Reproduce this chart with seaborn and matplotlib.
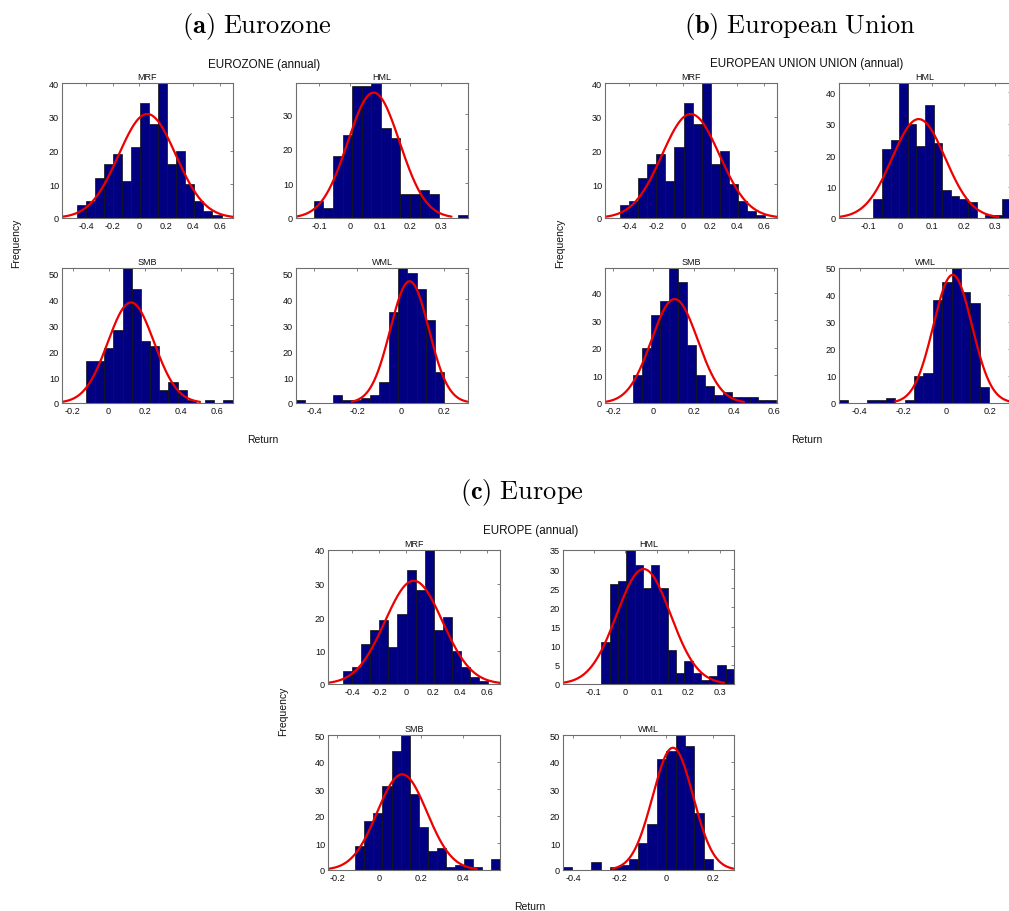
import numpy as np
import pandas as pd
import matplotlib
matplotlib.use("Agg")
import matplotlib.pyplot as plt
import seaborn as sns
from matplotlib.ticker import FuncFormatter, FixedLocator

# ---------------- data ----------------
FACTORS = ["MRF", "HML", "SMB", "WML"]

# bar counts (16 bins each)
EZ_MRF = [4, 5, 12, 16, 19, 11, 21, 34, 28, 40, 16, 20, 10, 5, 2, 1]
EZ_HML = [5, 3, 18, 24, 38, 38, 39, 26, 23, 7, 7, 8, 7, 0, 0, 1]
EZ_SMB = [16, 16, 21, 28, 52, 44, 24, 22, 5, 8, 5, 1, 0, 1, 0, 1]
EZ_WML = [1, 0, 0, 0, 3, 1, 1, 2, 3, 8, 35, 52, 50, 44, 32, 12]

EU_MRF = [4, 5, 12, 16, 19, 11, 21, 34, 28, 40, 16, 20, 10, 5, 2, 1]
EU_HML = [6, 22, 25, 43, 30, 23, 36, 24, 9, 7, 6, 5, 0, 1, 1, 6]
EU_SMB = [10, 20, 32, 37, 49, 44, 21, 10, 6, 3, 4, 2, 2, 2, 1, 1]
EU_WML = [1, 0, 0, 1, 1, 2, 0, 1, 10, 11, 38, 45, 50, 41, 37, 6]

EP_MRF = [4, 5, 12, 16, 19, 11, 21, 34, 28, 40, 16, 20, 10, 5, 2, 1]
EP_HML = [11, 26, 27, 35, 31, 25, 31, 25, 9, 3, 6, 3, 1, 2, 5, 4]
EP_SMB = [9, 18, 21, 31, 44, 50, 28, 16, 7, 8, 1, 2, 4, 1, 0, 4]
EP_WML = [1, 0, 0, 3, 0, 1, 2, 4, 10, 17, 41, 44, 50, 46, 21, 4]

# data range (first / last bin edge), order MRF, HML, SMB, WML
EZ_LO = [-0.470, -0.119, -0.126, -0.483]
EZ_HI = [0.614, 0.390, 0.689, 0.200]
EU_LO = [-0.470, -0.085, -0.101, -0.495]
EU_HI = [0.614, 0.350, 0.612, 0.197]
EP_LO = [-0.470, -0.076, -0.114, -0.443]
EP_HI = [0.614, 0.345, 0.579, 0.200]

# fitted normal (mean, std)
EZ_MU = [0.058, 0.079, 0.124, 0.040]
EZ_SD = [0.214, 0.0855, 0.128, 0.0886]
EU_MU = [0.058, 0.058, 0.106, 0.029]
EU_SD = [0.214, 0.084, 0.115, 0.0887]
EP_MU = [0.058, 0.058, 0.110, 0.028]
EP_SD = [0.214, 0.0853, 0.119, 0.0864]

# axis limits
EZ_XLIM = [(-0.58, 0.70), (-0.177, 0.390), (-0.259, 0.691), (-0.483, 0.309)]
EZ_YMAX = [40, 39, 52, 52]
EU_XLIM = [(-0.58, 0.70), (-0.194, 0.350), (-0.240, 0.615), (-0.495, 0.298)]
EU_YMAX = [40, 43, 49, 50]
EP_XLIM = [(-0.58, 0.70), (-0.198, 0.345), (-0.245, 0.579), (-0.443, 0.290)]
EP_YMAX = [40, 35, 50, 50]

# tick values
EZ_XTICKS = [[-0.4, -0.2, 0, 0.2, 0.4, 0.6], [-0.1, 0, 0.1, 0.2, 0.3],
             [-0.2, 0, 0.2, 0.4, 0.6], [-0.4, -0.2, 0, 0.2]]
EU_XTICKS = [[-0.4, -0.2, 0, 0.2, 0.4, 0.6], [-0.1, 0, 0.1, 0.2, 0.3],
             [-0.2, 0, 0.2, 0.4, 0.6], [-0.4, -0.2, 0, 0.2]]
EP_XTICKS = [[-0.4, -0.2, 0, 0.2, 0.4, 0.6], [-0.1, 0, 0.1, 0.2, 0.3],
             [-0.2, 0, 0.2, 0.4], [-0.4, -0.2, 0, 0.2]]
EZ_YSTEP = [10, 10, 10, 10]
EU_YSTEP = [10, 10, 10, 10]
EP_YSTEP = [10, 5, 10, 10]

PANEL_TITLES = [r"$\mathbf{(a)}\ \mathrm{Eurozone}$",
                r"$\mathbf{(b)}\ \mathrm{European\ Union}$",
                r"$\mathbf{(c)}\ \mathrm{Europe}$"]
SUPTITLES = ["EUROZONE (annual)", "EUROPEAN UNION UNION (annual)", "EUROPE (annual)"]

# ---------------- style ----------------
sns.set_theme(style="white")
plt.rcParams["font.family"] = ["Liberation Sans", "DejaVu Sans"]
plt.rcParams["axes.unicode_minus"] = False
plt.rcParams["mathtext.fontset"] = "cm"

W, H = 1009, 912
fig = plt.figure(figsize=(W / 100, H / 100), dpi=100)
fig.patch.set_facecolor("white")


def rect(x0, y0, x1, y1):
    return [x0 / W, 1 - y1 / H, (x1 - x0) / W, (y1 - y0) / H]


def fmt(v, _pos=None):
    if abs(v) < 1e-9:
        return "0"
    return f"{v:g}"


FRAME = "#6e6e6e"


def draw(ax, counts, lo, hi, mu, sd, xlim, ymax, xticks, ystep, title):
    counts = np.asarray(counts, dtype=float)
    nb = len(counts)
    edges = np.linspace(lo, hi, nb + 1)
    centers = (edges[:-1] + edges[1:]) / 2
    df = pd.DataFrame({"ret": centers, "freq": counts})
    sns.histplot(data=df, x="ret", weights="freq", bins=nb, binrange=(lo, hi), ax=ax,
                 color="#000080", edgecolor="#111111", linewidth=0.5,
                 alpha=1.0, stat="count")
    n = counts.sum()
    bw = (hi - lo) / nb
    xs = np.linspace(mu - 3 * sd, mu + 3 * sd, 300)
    ys = n * bw / (sd * np.sqrt(2 * np.pi)) * np.exp(-0.5 * ((xs - mu) / sd) ** 2)
    sns.lineplot(x=xs, y=ys, ax=ax, color="#ee0000", linewidth=1.6)
    ax.set_xlim(*xlim)
    ax.set_ylim(0, ymax)
    ax.xaxis.set_major_locator(FixedLocator(xticks))
    ax.yaxis.set_major_locator(FixedLocator(list(range(0, ymax + 1, ystep))))
    ax.xaxis.set_major_formatter(FuncFormatter(fmt))
    ax.yaxis.set_major_formatter(FuncFormatter(fmt))
    ax.set_xlabel("")
    ax.set_ylabel("")
    ax.set_title(title, fontsize=6.5, pad=3, color="#111111")
    ax.tick_params(direction="in", length=2.5, width=0.6, top=True, right=True,
                   labelsize=6.6, pad=2, color=FRAME, labelcolor="#111111")
    for s in ax.spines.values():
        s.set_color(FRAME)
        s.set_linewidth(0.8)
    ax.set_facecolor("white")


regions = [
    dict(counts=[EZ_MRF, EZ_HML, EZ_SMB, EZ_WML], lo=EZ_LO, hi=EZ_HI, mu=EZ_MU, sd=EZ_SD,
         xlim=EZ_XLIM, ymax=EZ_YMAX, xt=EZ_XTICKS, ys=EZ_YSTEP,
         rects=[(62, 84, 233, 219), (296, 84, 468, 219), (62, 269, 233, 404), (296, 269, 468, 404)],
         sup=(264, 65), freq=(16, 243), ret=(263, 440), panel=(257, 26)),
    dict(counts=[EU_MRF, EU_HML, EU_SMB, EU_WML], lo=EU_LO, hi=EU_HI, mu=EU_MU, sd=EU_SD,
         xlim=EU_XLIM, ymax=EU_YMAX, xt=EU_XTICKS, ys=EU_YSTEP,
         rects=[(605, 84, 777, 219), (839, 84, 1011, 219), (605, 269, 777, 404), (839, 269, 1011, 404)],
         sup=(807, 64), freq=(560, 243), ret=(807, 440), panel=(800, 26)),
    dict(counts=[EP_MRF, EP_HML, EP_SMB, EP_WML], lo=EP_LO, hi=EP_HI, mu=EP_MU, sd=EP_SD,
         xlim=EP_XLIM, ymax=EP_YMAX, xt=EP_XTICKS, ys=EP_YSTEP,
         rects=[(328, 551, 500, 685), (563, 551, 734, 685), (328, 736, 500, 871), (563, 736, 734, 871)],
         sup=(531, 531), freq=(283, 711), ret=(530, 907), panel=(522, 493)),
]

for k, reg in enumerate(regions):
    for i, name in enumerate(FACTORS):
        ax = fig.add_axes(rect(*reg["rects"][i]))
        draw(ax, reg["counts"][i], reg["lo"][i], reg["hi"][i], reg["mu"][i], reg["sd"][i],
             reg["xlim"][i], reg["ymax"][i], reg["xt"][i], reg["ys"][i], name)
    sx, sy = reg["sup"]
    fig.text(sx / W, 1 - sy / H, SUPTITLES[k], ha="center", va="center",
             fontsize=8.4, color="#111111")
    fx, fy = reg["freq"]
    fig.text(fx / W, 1 - fy / H, "Frequency", ha="center", va="center",
             rotation=90, fontsize=7.5, color="#111111")
    rx, ry = reg["ret"]
    fig.text(rx / W, 1 - ry / H, "Return", ha="center", va="center",
             fontsize=7.5, color="#111111")
    px, py = reg["panel"]
    fig.text(px / W, 1 - py / H, PANEL_TITLES[k], ha="center", va="center",
             fontsize=19, color="black")

fig.savefig("out.png", dpi=100, facecolor="white")
